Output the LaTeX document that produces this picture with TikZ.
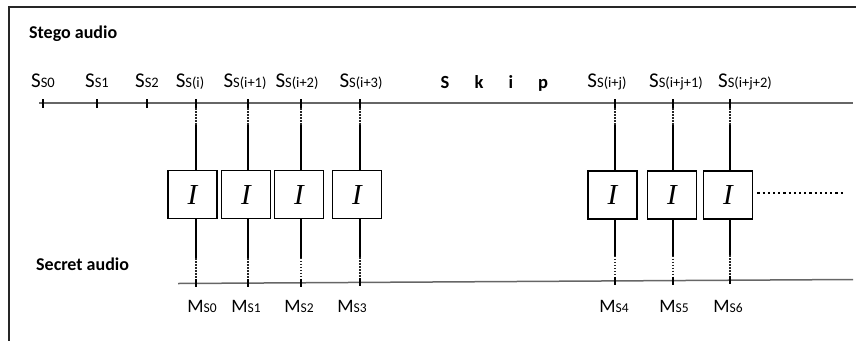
\documentclass[tikz,border=0pt]{standalone}
\usepackage{fontspec}
\setmainfont{Carlito}
\newfontfamily\boxfont{Liberation Serif}
\newcommand\lowpart[1]{{\fontsize{14.5}{14.5}\selectfont #1}}
\newcommand\lowm[1]{{\fontsize{13.5}{13.5}\selectfont #1}}
\begin{document}
\begin{tikzpicture}[x=1pt,y=-1pt,
  frameline/.style={draw=black!85, line width=1.2pt},
  axis/.style={draw=black!60, line width=1.5pt},
  tickmark/.style={draw=black, line width=1.6pt},
  dotseg/.style={draw=black!85, line width=1.4pt, dash pattern=on 1.5pt off 1.5pt},
  solidseg/.style={draw=black, line width=1.7pt},
  ibox/.style={draw=black, line width=1.8pt, minimum width=49pt, minimum height=48pt,
    inner sep=0pt, font=\boxfont\itshape\fontsize{29}{29}\selectfont},
  toplabel/.style={anchor=base, inner sep=0pt, font=\fontsize{21}{21}\selectfont},
  botlabel/.style={anchor=base, inner sep=0pt, font=\fontsize{19}{19}\selectfont},
  title/.style={anchor=base west, inner sep=0pt, font=\bfseries\fontsize{18}{18}\selectfont},
  skipletter/.style={anchor=base, inner sep=0pt, font=\bfseries\fontsize{18.5}{18.5}\selectfont},
  more/.style={draw=black, line width=2.2pt, dash pattern=on 2.2pt off 3pt}
]
\useasboundingbox (0,0) rectangle (856,341);

% frame
\coordinate (fTL) at (9,7);
\coordinate (fTR) at (856,7);
\coordinate (fBL) at (9,341);
\draw[frameline] (fTR) -- (fTL) -- (fBL);

% titles
\node[title] (stego) at (29,38.5) {Stego audio};
\node[title] (secret) at (36,270) {Secret audio};

% stego axis
\coordinate (sA) at (39,103);
\coordinate (sB) at (853,103);
\draw[axis] (sA) -- (sB);

% secret axis
\coordinate (mA) at (178,283.5);
\coordinate (mB) at (853,279.5);
\draw[axis] (mA) -- (mB);

% sample positions on the stego axis
\foreach \n/\x in {0/43,1/97,2/147,3/196,4/248,5/301,6/360,7/615,8/673,9/730}
  \coordinate (s\n) at (\x,103);

% sample positions on the secret axis
\foreach \n/\x/\y in {0/196/283.4,1/248/283.1,2/301/282.8,3/360/282.4,4/615/280.9,5/673/280.6,6/730/280.2}
  \coordinate (m\n) at (\x,\y);

% stego sample labels
\node[toplabel] (l0) at (43,87.5) {S\lowpart{S0}};
\node[toplabel] (l1) at (97,87.5) {S\lowpart{S1}};
\node[toplabel] (l2) at (147,87.5) {S\lowpart{S2}};
\node[toplabel] (l3) at (190,87.5) {S\lowpart{S(i)}};
\node[toplabel] (l4) at (245,87.5) {S\lowpart{S(i+1)}};
\node[toplabel] (l5) at (297,87.5) {S\lowpart{S(i+2)}};
\node[toplabel] (l6) at (361,87.5) {S\lowpart{S(i+3)}};
\node[toplabel] (l7) at (607,87.5) {S\lowpart{S(i+j)}};
\node[toplabel] (l8) at (676,87.5) {S\lowpart{S(i+j+1)}};
\node[toplabel] (l9) at (745,87.5) {S\lowpart{S(i+j+2)}};

% skipped samples
\node[skipletter] (k1) at (445,88.5) {S};
\node[skipletter] (k2) at (479,88.5) {k};
\node[skipletter] (k3) at (511,88.5) {i};
\node[skipletter] (k4) at (543,88.5) {p};

% ticks of the first samples
\foreach \n in {0,1,2}
  \draw[tickmark] ([yshift=4pt]s\n) -- ([yshift=-5pt]s\n);

% embedding boxes
\node[ibox] (b0) at (192.5,194.5) {I};
\node[ibox] (b1) at (246,194.5) {I};
\node[ibox] (b2) at (299,194.5) {I};
\node[ibox] (b3) at (357,194.5) {I};
\node[ibox] (b4) at (612.5,195) {I};
\node[ibox] (b5) at (672,195) {I};
\node[ibox] (b6) at (728,195) {I};

% links stego sample -> box -> secret sample
\foreach \a/\b/\m in {3/0/0,4/1/1,5/2/2,6/3/3,7/4/4,8/5/5,9/6/6}{
  \draw[tickmark] ([yshift=4pt]s\a) -- ([yshift=-5pt]s\a);
  \draw[dotseg] ([yshift=-5pt]s\a) -- ([yshift=-22pt]s\a);
  \draw[solidseg] ([yshift=-22pt]s\a) -- (s\a |- b\b.north);
  \draw[solidseg] (m\m |- b\b.south) -- ([yshift=25pt]m\m);
  \draw[dotseg] ([yshift=25pt]m\m) -- ([yshift=4pt]m\m);
  \draw[tickmark] ([yshift=4pt]m\m) -- ([yshift=-4pt]m\m);
}

% continuation
\coordinate (dotend) at (845,193);
\draw[more] ([xshift=4pt]b6.east |- dotend) -- (dotend);

% secret sample labels
\node[botlabel] (n0) at (202,312.5) {M\lowm{S0}};
\node[botlabel] (n1) at (246,312.5) {M\lowm{S1}};
\node[botlabel] (n2) at (299,312.5) {M\lowm{S2}};
\node[botlabel] (n3) at (352,312.5) {M\lowm{S3}};
\node[botlabel] (n4) at (614,312.5) {M\lowm{S4}};
\node[botlabel] (n5) at (674,312.5) {M\lowm{S5}};
\node[botlabel] (n6) at (728,312.5) {M\lowm{S6}};
\end{tikzpicture}
\end{document}
